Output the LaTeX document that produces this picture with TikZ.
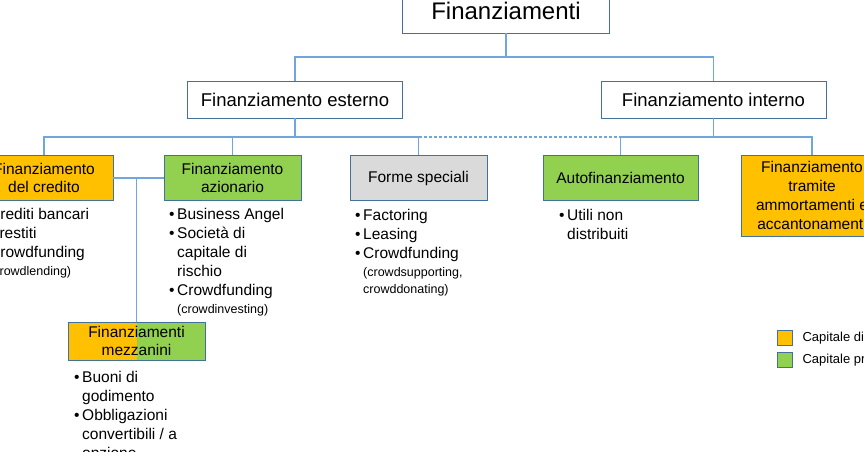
\documentclass[tikz,border=0pt]{standalone}
\usepackage{fontspec}
\setmainfont{Liberation Sans}
\usetikzlibrary{positioning}
\definecolor{orangefill}{HTML}{FFC000}
\definecolor{greenfill}{HTML}{92D050}
\definecolor{grayfill}{HTML}{DADADA}
\definecolor{boxline}{HTML}{41719C}
\definecolor{linkblue}{HTML}{6FA6DC}
\newcommand{\lbul}{\makebox[8pt][l]{\textbullet}}
\newcommand{\lind}{\hspace*{8pt}}
\begin{document}
\begin{tikzpicture}[x=1pt,y=-1pt,
    box/.style={draw=boxline,line width=0.8pt,inner sep=0pt,align=center,fill=white},
    lvl/.style={box,font=\fontsize{15.5}{18}\selectfont,minimum height=45pt},
    conn/.style={draw=linkblue,line width=1.2pt},
    items/.style={anchor=north west,inner sep=0pt,align=left,font=\fontsize{15.5}{19}\selectfont},
    legsq/.style={draw=boxline,line width=0.8pt,minimum size=15pt,inner sep=0pt}]
    \useasboundingbox (0,0) rectangle (864,452);
    \clip (0,0) rectangle (864,452);
    \node[box,minimum width=207pt,minimum height=44pt,font=\fontsize{24}{28}\selectfont] (top) at (506,11) {Finanziamenti};
    \node[box,minimum width=215pt,minimum height=37pt,font=\fontsize{18.5}{22}\selectfont] (esterno) at (295,99.5) {Finanziamento esterno};
    \node[box,minimum width=225pt,minimum height=37pt,font=\fontsize{18.5}{22}\selectfont] (interno) at (713.5,99.5) {Finanziamento interno};
    \node[lvl,minimum width=138pt,fill=orangefill] (credito) at (44,178) {Finanziamento\\del credito};
    \node[lvl,minimum width=137pt,fill=greenfill] (azionario) at (232.5,178) {Finanziamento\\azionario};
    \node[lvl,minimum width=137pt,fill=grayfill] (forme) at (418.5,178) {Forme speciali};
    \node[lvl,minimum width=155pt,fill=greenfill] (autofin) at (620.5,178) {Autofinanziamento};
    \node[lvl,minimum width=142pt,minimum height=81pt,fill=orangefill,font=\fontsize{15.5}{19}\selectfont] (ammort) at (812,195.5) {Finanziamento\\tramite\\ammortamenti e\\accantonamenti};
    \node[lvl,minimum width=137pt,minimum height=38pt,fill=greenfill,
        path picture={\fill[orangefill] (path picture bounding box.north west) rectangle (path picture bounding box.south);}] (mezz) at (136.5,341) {Finanziamenti\\mezzanini};
    \coordinate (j0) at (top.south |- 0,57);
    \draw[conn] (top.south) -- (j0) -| (esterno.north);
    \draw[conn] (j0) -| (interno.north);
    \coordinate (jE) at (esterno.south |- 0,137);
    \draw[conn] (esterno.south) -- (jE) -| (credito.north);
    \draw[conn] (jE) -| (azionario.north);
    \draw[conn] (jE) -| (forme.north);
    \coordinate (jI) at (interno.south |- 0,137);
    \draw[conn] (interno.south) -- (jI) -| (autofin.north);
    \draw[conn] (jI) -| (ammort.north);
    \draw[conn,dash pattern=on 3pt off 2pt] (forme.north |- jE) -- ([xshift=9pt]autofin.north |- jI);
    \draw[conn] (credito.east) -- (azionario.west);
    \draw[conn] (credito.east -| mezz.north) -- (mezz.north);
    \node[items] (credlist) at (-19,208) {\lbul Crediti bancari\\ \lbul Prestiti\\ \lbul Crowdfunding\\[-1pt] \lind{\fontsize{12.5}{15}\selectfont (crowdlending)}};
    \node[items] (azlist) at (169,208) {\lbul Business Angel\\ \lbul Società di\\ \lind capitale di\\ \lind rischio\\ \lbul Crowdfunding\\[-1pt] \lind{\fontsize{12.5}{15}\selectfont (crowdinvesting)}};
    \node[items] (formelist) at (355,209) {\lbul Factoring\\ \lbul Leasing\\ \lbul Crowdfunding\\[-1pt] \lind{\fontsize{12.5}{15}\selectfont (crowdsupporting,}\\[-2pt] \lind{\fontsize{12.5}{15}\selectfont crowddonating)}};
    \node[items] (autolist) at (559,209) {\lbul Utili non\\ \lind distribuiti};
    \node[items] (mezzlist) at (74,371) {\lbul Buoni di\\ \lind godimento\\ \lbul Obbligazioni\\ \lind convertibili / a\\ \lind opzione};
    \node[legsq,fill=orangefill] (legterzi) at (784.5,338) {};
    \node[legsq,fill=greenfill] (legproprio) at (784.5,360) {};
    \node[right=10pt of legterzi,inner sep=0pt,font=\fontsize{13}{15}\selectfont] (legterzitxt) {Capitale di terzi};
    \node[right=10pt of legproprio,inner sep=0pt,font=\fontsize{13}{15}\selectfont] (legpropriotxt) {Capitale proprio};
\end{tikzpicture}
\end{document}
